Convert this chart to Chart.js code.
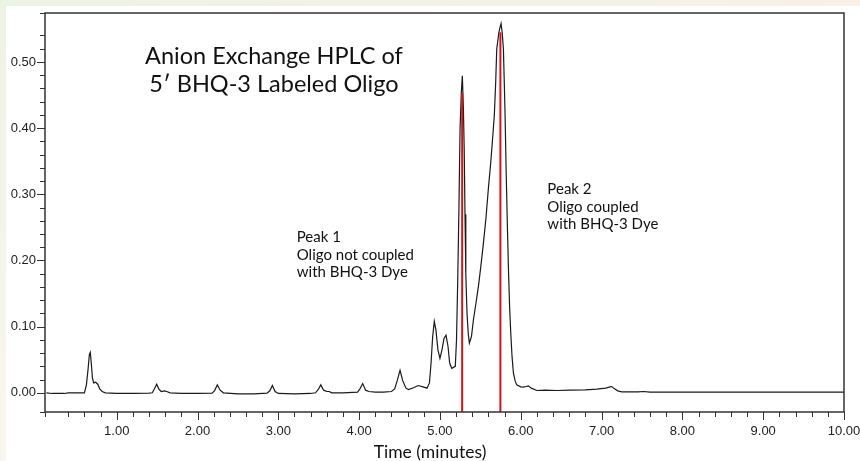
<!DOCTYPE html>
<html>
<head>
<meta charset="utf-8">
<script src="https://cdn.jsdelivr.net/npm/chart.js@4/dist/chart.umd.min.js"></script>
<style>
  html, body { margin: 0; padding: 0; background: #fff; }
  #wrap { width: 860px; height: 461px; }
</style>
</head>
<body>
<div id="wrap"><canvas id="hplcChart" width="860" height="461"></canvas></div>
<script>
// retention time (minutes) and absorbance
const TIME = [
  0.13, 0.20, 0.35, 0.40, 0.58, 0.60, 0.625, 0.645, 0.662, 0.673, 0.685, 0.70, 0.715, 0.74, 0.765, 0.79, 0.82, 0.86,
  1.00, 1.20, 1.40, 1.44, 1.47, 1.495, 1.52, 1.55, 1.59, 1.62, 1.66, 1.80, 2.00, 2.18,
  2.21, 2.245, 2.28, 2.32, 2.50, 2.70, 2.86, 2.895, 2.926, 2.96, 3.00, 3.20, 3.40, 3.46,
  3.495, 3.525, 3.56, 3.60, 3.63, 3.66, 3.80, 3.98, 4.01, 4.044, 4.08, 4.12, 4.20, 4.30, 4.40,
  4.44, 4.47, 4.506, 4.54, 4.58, 4.61, 4.68, 4.73, 4.79, 4.84, 4.87, 4.89, 4.91, 4.93, 4.95, 4.975,
  5.00, 5.025, 5.05, 5.075, 5.10, 5.12, 5.146, 5.19, 5.205, 5.22, 5.235, 5.249, 5.265, 5.277,
  5.29, 5.30, 5.31, 5.32, 5.335, 5.35, 5.364, 5.39, 5.414, 5.445, 5.475, 5.505, 5.537, 5.57, 5.60,
  5.63, 5.655, 5.673, 5.69, 5.703, 5.73, 5.745, 5.756, 5.77, 5.785, 5.796, 5.806, 5.82, 5.835, 5.847,
  5.862, 5.876, 5.892, 5.909, 5.93, 5.95, 6.00, 6.032, 6.065, 6.094, 6.13, 6.20, 6.30, 6.45, 6.60,
  6.80, 6.94, 7.05, 7.105, 7.126, 7.16, 7.20, 7.25, 7.45, 7.52, 7.60, 8.00, 9.00, 10.00
];
const ABSORBANCE = [
  0.000, -0.001, -0.001, 0.000, 0.000, 0.000, 0.012, 0.035, 0.058, 0.061, 0.045, 0.022, 0.015, 0.016, 0.013, 0.006, 0.002, 0.000,
  -0.001, -0.001, -0.0005, 0.000, 0.007, 0.013, 0.006, 0.002, 0.003, 0.002, 0.000, -0.001, -0.001, -0.0005,
  0.003, 0.012, 0.004, 0.000, -0.0015, -0.0015, -0.0005, 0.003, 0.011, 0.002, -0.001, -0.0015, -0.001, 0.000,
  0.005, 0.012, 0.004, 0.002, 0.002, 0.000, 0.000, 0.001, 0.006, 0.014, 0.004, 0.002, 0.001, 0.001, 0.002,
  0.006, 0.018, 0.034, 0.018, 0.007, 0.005, 0.008, 0.011, 0.009, 0.007, 0.015, 0.045, 0.085, 0.108, 0.095, 0.065,
  0.052, 0.065, 0.082, 0.087, 0.070, 0.045, 0.037, 0.040, 0.080, 0.170, 0.280, 0.400, 0.455, 0.479,
  0.430, 0.370, 0.270, 0.180, 0.120, 0.090, 0.075, 0.085, 0.110, 0.135, 0.160, 0.190, 0.225, 0.265, 0.310,
  0.350, 0.390, 0.420, 0.470, 0.520, 0.545, 0.553, 0.558, 0.545, 0.520, 0.470, 0.420, 0.330, 0.250, 0.190,
  0.130, 0.091, 0.055, 0.030, 0.018, 0.012, 0.009, 0.0085, 0.0095, 0.0105, 0.007, 0.0035, 0.004, 0.0035, 0.004,
  0.0045, 0.0055, 0.007, 0.009, 0.0095, 0.006, 0.003, 0.0015, 0.0015, 0.002, 0.001, 0.001, 0.001, 0.001
];

// red markers at the two main peaks
const MARKER_TIME = [5.275, 5.748];
const MARKER_TOP = [0.453, 0.545];

const X_MIN = 0.1126, X_MAX = 10.0;
const Y_MIN = -0.029, Y_MAX = 0.574;

const TITLE_LINES = ['Anion Exchange HPLC of', '5\u2032 BHQ-3 Labeled Oligo'];
const PEAK1_LINES = ['Peak 1', 'Oligo not coupled', 'with BHQ-3 Dye'];
const PEAK2_LINES = ['Peak 2', 'Oligo coupled', 'with BHQ-3 Dye'];
const X_TITLE = 'Time (minutes)';

const isMajor = (v, unit) => Math.abs(v / unit - Math.round(v / unit)) < 1e-6;

const fmt = v => {
  const s = v.toFixed(2);
  return s === '-0.00' ? '0.00' : s;
};

const LABEL_FONT = 'Lato, "Open Sans", sans-serif';

const extras = {
  id: 'extras',
  beforeDraw(chart) {
    const ctx = chart.ctx;
    ctx.save();
    ctx.fillStyle = '#ffffff';
    ctx.fillRect(0, 0, chart.width, chart.height);
    let g = ctx.createLinearGradient(0, 0, chart.width, 0);
    g.addColorStop(0, '#edf3e4');
    g.addColorStop(1, '#f9f0e7');
    ctx.fillStyle = g;
    ctx.fillRect(0, 0, chart.width, 6);
    g = ctx.createLinearGradient(0, 0, 0, chart.height);
    g.addColorStop(0, '#edf3e4');
    g.addColorStop(1, '#faf6ef');
    ctx.fillStyle = g;
    ctx.fillRect(0, 6, 6, chart.height - 6);
    ctx.restore();
  },
  afterDatasetsDraw(chart) {
    const ctx = chart.ctx;
    const area = chart.chartArea;
    const xs = chart.scales.x;
    const ys = chart.scales.y;
    ctx.save();

    // frame
    ctx.strokeStyle = '#333';
    ctx.lineWidth = 1.5;
    ctx.strokeRect(area.left, area.top, area.right - area.left, area.bottom - area.top);

    // tick marks
    ctx.lineWidth = 1;
    ctx.beginPath();
    ys.ticks.forEach(t => {
      const py = Math.round(ys.getPixelForValue(t.value)) + 0.5;
      const len = isMajor(t.value, 0.1) ? 8 : 5;
      ctx.moveTo(area.left - len, py);
      ctx.lineTo(area.left, py);
    });
    xs.ticks.forEach(t => {
      const px = Math.round(xs.getPixelForValue(t.value)) + 0.5;
      const len = isMajor(t.value, 1) ? 8 : 5;
      ctx.moveTo(px, area.bottom);
      ctx.lineTo(px, area.bottom + len);
    });
    ctx.stroke();

    // texts
    ctx.fillStyle = '#111';
    ctx.textBaseline = 'alphabetic';
    ctx.textAlign = 'center';
    ctx.font = '23.5px ' + LABEL_FONT;
    const tx = xs.getPixelForValue(2.946);
    const ty = ys.getPixelForValue(0.4976);
    TITLE_LINES.forEach((s, i) => ctx.fillText(s, tx, ty + i * 28.5));

    ctx.textAlign = 'left';
    ctx.font = '15px ' + LABEL_FONT;
    let px = xs.getPixelForValue(3.228);
    let py = ys.getPixelForValue(0.2278);
    PEAK1_LINES.forEach((s, i) => ctx.fillText(s, px, py + i * 17.5));
    px = xs.getPixelForValue(6.329);
    py = ys.getPixelForValue(0.2999);
    PEAK2_LINES.forEach((s, i) => ctx.fillText(s, px, py + i * 17.2));

    ctx.textAlign = 'center';
    ctx.font = '17.5px ' + LABEL_FONT;
    ctx.fillText(X_TITLE, xs.getPixelForValue(4.877), area.bottom + 46);
    ctx.restore();
  }
};

const traceData = TIME.map((t, i) => ({ x: t, y: ABSORBANCE[i] }));
const markerSets = MARKER_TIME.map((t, i) => ({
  data: [{ x: t, y: Y_MIN }, { x: t, y: MARKER_TOP[i] }],
  borderColor: '#d0141c',
  borderWidth: 2,
  pointRadius: 0,
  order: 0
}));

Chart.defaults.font.family = '"Liberation Sans", Arial, sans-serif';

const hplcCtx = document.getElementById('hplcChart').getContext('2d');
const hplcChart = new Chart(hplcCtx, {
  type: 'line',
  data: {
    datasets: [{
      label: 'Absorbance',
      data: traceData,
      borderColor: '#1a1a1a',
      borderWidth: 1.2,
      pointRadius: 0,
      tension: 0,
      fill: false,
      order: 1
    }, ...markerSets]
  },
  options: {
    responsive: false,
    animation: false,
    layout: { padding: { top: 13, right: 16, left: 0, bottom: 0 } },
    plugins: {
      legend: { display: false },
      tooltip: { enabled: false },
      title: { display: false }
    },
    scales: {
      x: {
        type: 'linear',
        min: X_MIN,
        max: X_MAX,
        afterFit: s => { s.height = 49; s.paddingLeft = 0; s.paddingRight = 0; },
        grid: { display: false, drawTicks: false },
        border: { display: false },
        ticks: {
          stepSize: 0.2,
          autoSkip: false,
          maxRotation: 0,
          padding: 12,
          color: '#222',
          font: { size: 13 },
          callback: v => isMajor(v, 1) ? fmt(v) : ''
        }
      },
      y: {
        type: 'linear',
        min: Y_MIN,
        max: Y_MAX,
        afterFit: s => { s.width = 45; s.paddingTop = 0; s.paddingBottom = 0; },
        grid: { display: false, drawTicks: false },
        border: { display: false },
        ticks: {
          stepSize: 0.02,
          autoSkip: false,
          padding: 9,
          color: '#222',
          font: { size: 13 },
          callback: v => isMajor(v, 0.1) ? fmt(v) : ''
        }
      }
    }
  },
  plugins: [extras]
});
</script>
</body>
</html>
